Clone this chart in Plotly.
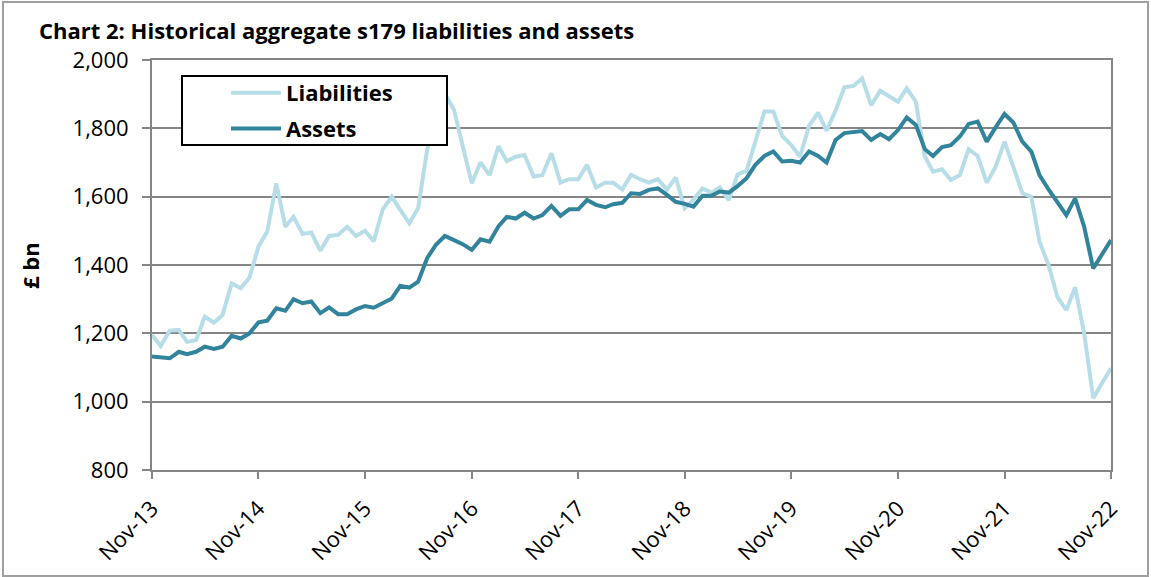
import plotly.graph_objects as go
import pandas as pd

months = pd.date_range("2013-11-01", periods=109, freq="MS")

liabilities = [
    1195, 1163, 1208, 1210, 1175, 1180, 1249, 1231, 1254, 1346, 1332, 1363,
    1454, 1498, 1639, 1512, 1541, 1491, 1495, 1442, 1485, 1488, 1512, 1485,
    1500, 1470, 1563, 1600, 1561, 1522, 1566, 1737, 1840, 1902, 1854, 1746,
    1639, 1700, 1663, 1748, 1704, 1717, 1722, 1659, 1663, 1727, 1641, 1651,
    1651, 1693, 1627, 1641, 1641, 1621, 1664, 1651, 1641, 1651, 1620, 1656,
    1566, 1592, 1624, 1612, 1627, 1590, 1665, 1676, 1766, 1849, 1849, 1778,
    1751, 1717, 1807, 1846, 1793, 1852, 1920, 1924, 1946, 1868, 1910, 1893,
    1878, 1917, 1878, 1717, 1673, 1680, 1649, 1663, 1739, 1719, 1641, 1686,
    1761, 1688, 1610, 1600, 1468, 1400, 1307, 1268, 1335, 1200, 1010, 1054,
    1098,
]

assets = [
    1132, 1130, 1127, 1146, 1139, 1146, 1161, 1154, 1161, 1193, 1185, 1200,
    1232, 1237, 1273, 1266, 1300, 1288, 1293, 1259, 1276, 1256, 1256, 1270,
    1280, 1275, 1290, 1302, 1339, 1334, 1351, 1420, 1459, 1485, 1473, 1461,
    1444, 1475, 1468, 1514, 1541, 1536, 1553, 1536, 1546, 1573, 1544, 1563,
    1563, 1590, 1576, 1569, 1578, 1582, 1610, 1608, 1620, 1624, 1605, 1585,
    1579, 1571, 1603, 1603, 1615, 1612, 1631, 1654, 1693, 1719, 1732, 1703,
    1705, 1700, 1732, 1719, 1700, 1766, 1786, 1790, 1792, 1766, 1783, 1768,
    1795, 1832, 1810, 1739, 1719, 1745, 1751, 1776, 1813, 1820, 1761, 1802,
    1842, 1817, 1761, 1732, 1663, 1621, 1585, 1546, 1595, 1512, 1390, 1432,
    1473,
]

tick_dates = ["2013-11-01", "2014-11-01", "2015-11-01", "2016-11-01", "2017-11-01",
              "2018-11-01", "2019-11-01", "2020-11-01", "2021-11-01", "2022-11-01"]
tick_labels = ["Nov-13", "Nov-14", "Nov-15", "Nov-16", "Nov-17",
               "Nov-18", "Nov-19", "Nov-20", "Nov-21", "Nov-22"]
y_ticks = [800, 1000, 1200, 1400, 1600, 1800, 2000]

FONT = "Open Sans, sans-serif"
W, H = 1151, 577
ML, MR, MT, MB = 152, 40, 60, 107
PW, PH = W - ML - MR, H - MT - MB

def px(x):
    return (x - ML) / PW

def py(y):
    return (H - MB - y) / PH

fig = go.Figure()
fig.add_trace(go.Scatter(x=months, y=liabilities, mode="lines", name="Liabilities",
                         legendgroup="l", line=dict(color="#B7DEE8", width=4)))
fig.add_trace(go.Scatter(x=months, y=assets, mode="lines", name="Assets",
                         legendgroup="a", line=dict(color="#31849B", width=4)))

fig.update_layout(
    width=W, height=H,
    margin=dict(l=ML, r=MR, t=MT, b=MB, autoexpand=False),
    paper_bgcolor="white", plot_bgcolor="white",
    font=dict(family=FONT, color="black", size=20),
    showlegend=True,
    legend=dict(x=px(226), y=py(72), xanchor="left", yanchor="top",
                bgcolor="rgba(0,0,0,0)", borderwidth=0,
                font=dict(family=FONT, size=22, color="black", weight="bold"),
                itemwidth=50, tracegroupgap=4),
    xaxis=dict(range=["2013-11-01", "2022-11-01"], tickvals=tick_dates, ticktext=tick_labels,
               tickangle=-45, showgrid=False, showline=True, linecolor="#868686", linewidth=2,
               mirror=True, ticks="outside", ticklen=7, tickcolor="#868686", tickwidth=2,
               ticklabelstandoff=8, automargin=False,
               tickfont=dict(family=FONT, size=22, color="black")),
    yaxis=dict(range=[800, 2000], tickvals=y_ticks, tickformat=",d",
               showgrid=True, gridcolor="#868686", gridwidth=2,
               showline=True, linecolor="#868686", linewidth=2, mirror=True,
               ticks="outside", ticklen=8, tickcolor="#868686", tickwidth=2,
               ticklabelstandoff=9, automargin=False,
               tickfont=dict(family=FONT, size=22, color="black"), zeroline=False),
    shapes=[
        dict(type="rect", xref="paper", yref="paper",
             x0=px(182), x1=px(447), y0=py(145), y1=py(76),
             fillcolor="white", line=dict(color="black", width=2), layer="above"),
        dict(type="rect", xref="paper", yref="paper",
             x0=px(3), x1=px(1148), y0=py(576), y1=py(2),
             fillcolor="rgba(0,0,0,0)", line=dict(color="#A0A0A0", width=2), layer="below"),
    ],
    annotations=[
        dict(text="<b>Chart 2: Historical aggregate s179 liabilities and assets</b>",
             xref="paper", yref="paper", x=px(37), y=py(30), xanchor="left", yanchor="middle",
             showarrow=False, font=dict(family=FONT, size=22, color="black")),
        dict(text="<b>£ bn</b>", xref="paper", yref="paper", x=px(30), y=py(265),
             xanchor="center", yanchor="middle", textangle=-90, showarrow=False,
             font=dict(family=FONT, size=22, color="black")),
    ],
)

fig.write_html("out.html")
